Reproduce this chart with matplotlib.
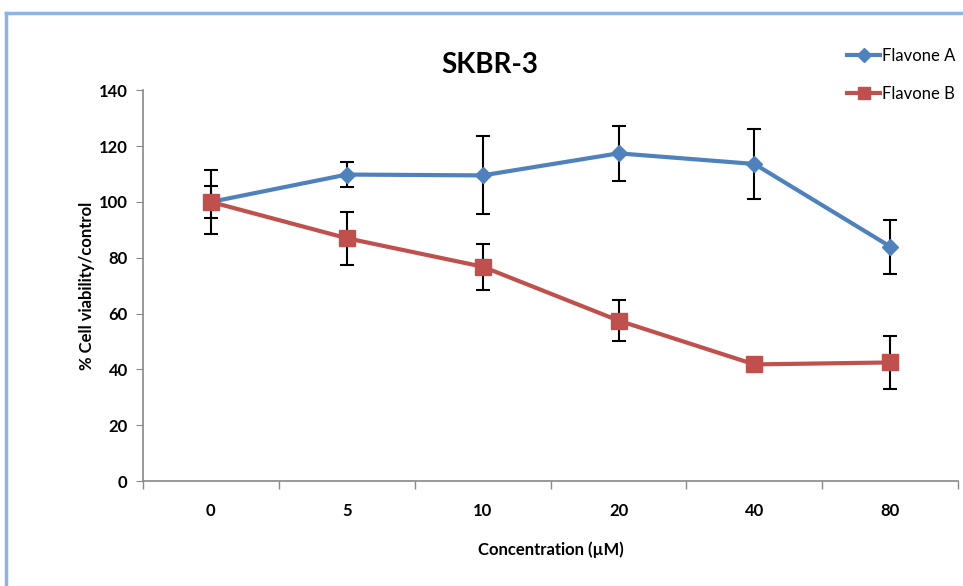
import matplotlib.pyplot as plt
from matplotlib.lines import Line2D

# data
concentrations = ['0', '5', '10', '20', '40', '80']
flavone_a = [100, 109.8, 109.5, 117.4, 113.6, 84]
flavone_a_err = [11.5, 4.6, 14, 9.8, 12.5, 9.7]
flavone_b = [100, 87, 76.8, 57.5, 41.8, 42.5]
flavone_b_err = [5.6, 9.5, 8.2, 7.2, 0, 9.5]

plt.rcParams['font.family'] = ['Lato', 'DejaVu Sans']

fig = plt.figure(figsize=(9.63, 5.86), dpi=100)
ax = fig.add_axes([0.1485, 0.179, 0.8465, 0.667])

x = list(range(len(concentrations)))
ax.errorbar(x, flavone_a, yerr=flavone_a_err, color='#4F81BD', lw=3,
            marker='D', markersize=8, ecolor='black', elinewidth=1.5,
            capsize=5, capthick=1.5, zorder=3)
ax.errorbar(x, flavone_b, yerr=flavone_b_err, color='#C0504D', lw=3,
            marker='s', markersize=11, ecolor='black', elinewidth=1.5,
            capsize=5, capthick=1.5, zorder=4)

ax.set_xlim(-0.5, len(concentrations) - 0.5)
ax.set_ylim(0, 140)
ax.set_yticks(range(0, 141, 20))
ax.set_xticks(x)
ax.set_xticklabels(concentrations)
ax.set_xticks([i - 0.5 for i in range(len(concentrations) + 1)], minor=True)
ax.tick_params(axis='x', which='major', length=0, pad=16, labelsize=12)
ax.tick_params(axis='x', which='minor', length=6, color='#888888', width=1)
ax.tick_params(axis='y', length=5, color='#888888', labelsize=12, pad=6)
for lab in ax.get_xticklabels() + ax.get_yticklabels():
    lab.set_fontweight('bold')

for s in ['top', 'right']:
    ax.spines[s].set_visible(False)
for s in ['left', 'bottom']:
    ax.spines[s].set_color('#888888')
    ax.spines[s].set_linewidth(1.2)

fig.text(490 / 963, 1 - 65 / 586, 'SKBR-3', fontsize=20, fontweight='bold',
         ha='center', va='center')
ax.set_xlabel('Concentration (µM)', fontsize=12, fontweight='bold', labelpad=16)
ax.set_ylabel('% Cell viability/control', fontsize=12, fontweight='bold', labelpad=3)

handles = [Line2D([], [], color='#4F81BD', lw=3, marker='D', markersize=7),
           Line2D([], [], color='#C0504D', lw=3, marker='s', markersize=9)]
fig.legend(handles, ['Flavone A', 'Flavone B'], loc='upper left',
           bbox_to_anchor=(832 / 963, 1 - 33 / 586), frameon=False,
           fontsize=12, handlelength=2.0, handletextpad=0.1, labelspacing=1.3)

# light blue frame of the original figure
fig.add_artist(Line2D([6 / 963, 1], [1 - 13 / 586, 1 - 13 / 586],
                      transform=fig.transFigure, color='#8EB4E3', lw=2.5))
fig.add_artist(Line2D([6 / 963, 6 / 963], [0, 1 - 13 / 586],
                      transform=fig.transFigure, color='#8EB4E3', lw=2.5))

fig.savefig('out.png', dpi=100)
